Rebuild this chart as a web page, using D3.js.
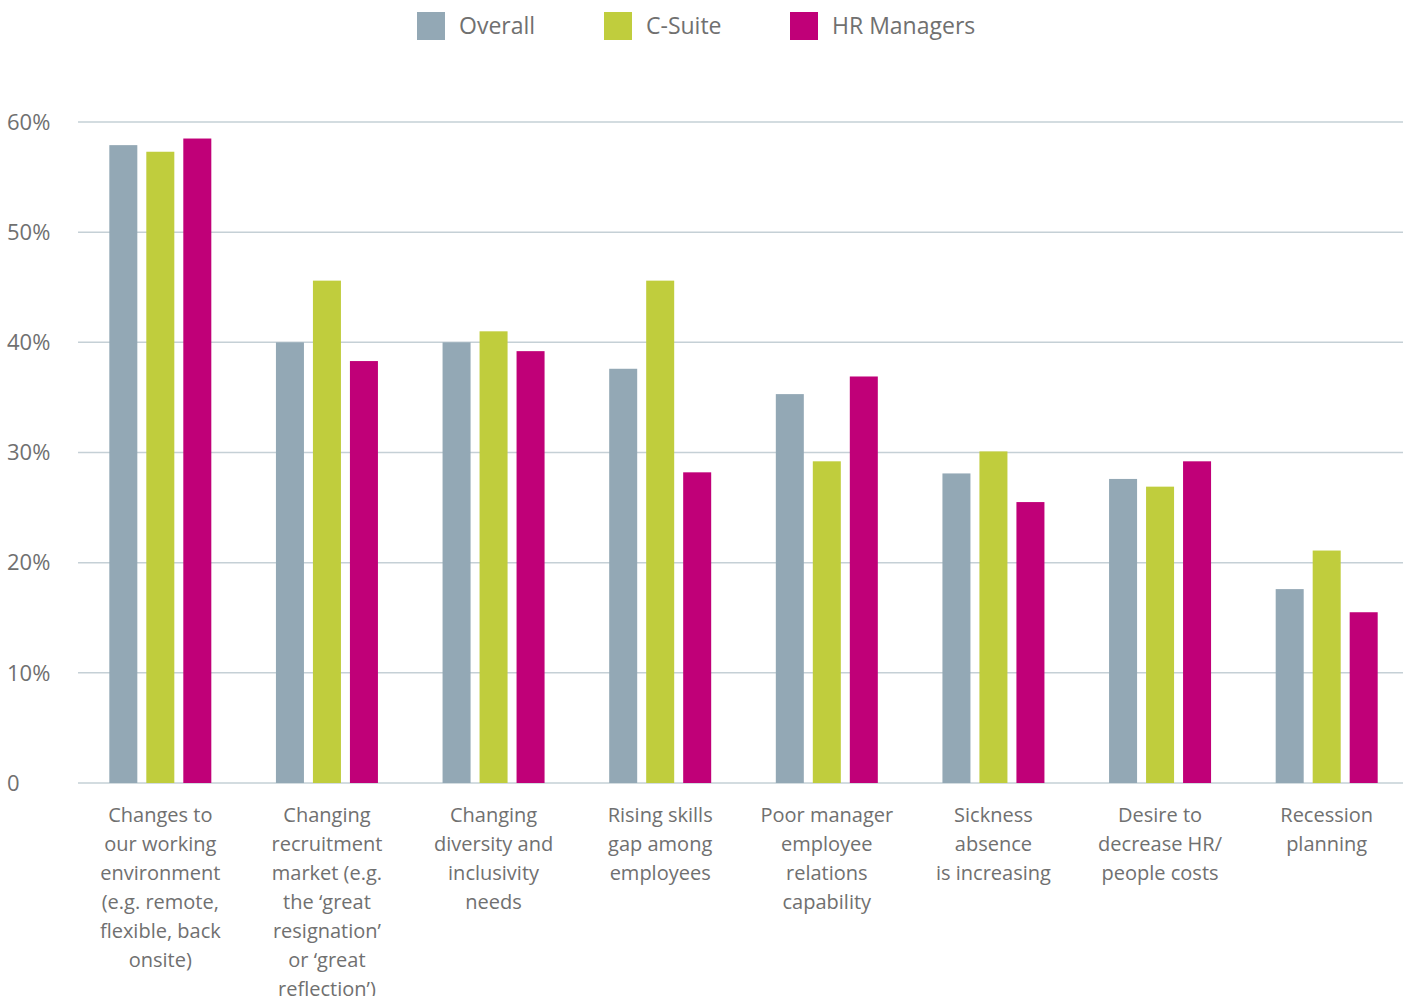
<!DOCTYPE html>
<html>
<head>
<meta charset="utf-8">
<script src="https://cdn.jsdelivr.net/npm/d3@7"></script>
<style>
  body { margin: 0; background: #fff; }
  text { font-family: "Open Sans", sans-serif; fill: #707070; }
</style>
</head>
<body>
<div id="chart"></div>
<script>
var categories = [
  ["Changes to", "our working", "environment", "(e.g. remote,", "flexible, back", "onsite)"],
  ["Changing", "recruitment", "market (e.g.", "the \u2018great", "resignation\u2019", "or \u2018great", "reflection\u2019)"],
  ["Changing", "diversity and", "inclusivity", "needs"],
  ["Rising skills", "gap among", "employees"],
  ["Poor manager", "employee", "relations", "capability"],
  ["Sickness", "absence", "is increasing"],
  ["Desire to", "decrease HR/", "people costs"],
  ["Recession", "planning"]
];
var series = ["Overall", "C-Suite", "HR Managers"];
var overall = [57.9, 40.0, 40.0, 37.6, 35.3, 28.1, 27.6, 17.6];
var csuite  = [57.3, 45.6, 41.0, 45.6, 29.2, 30.1, 26.9, 21.1];
var hrmgrs  = [58.5, 38.3, 39.2, 28.2, 36.9, 25.5, 29.2, 15.5];
var yTicks = [0, 10, 20, 30, 40, 50, 60];
var colors = ["#93a8b5", "#c0cd3d", "#c00078"];

var width = 1409, height = 996;
var svg = d3.select("#chart").append("svg")
    .attr("width", width)
    .attr("height", height);

var x = d3.scaleBand()
    .domain(d3.range(categories.length))
    .range([77, 1410]);

var y = d3.scaleLinear()
    .domain([0, 60])
    .range([783, 122]);

var xSub = d3.scaleBand()
    .domain(series)
    .range([-51, 51])
    .paddingInner(0.243);

// gridlines
svg.append("g").selectAll("line")
    .data(yTicks)
  .enter().append("line")
    .attr("x1", 78)
    .attr("x2", 1403)
    .attr("y1", function(d){ return y(d); })
    .attr("y2", function(d){ return y(d); })
    .attr("stroke", "#c5d0d6")
    .attr("stroke-width", 1.5);

// y labels
svg.append("g").selectAll("text")
    .data(yTicks)
  .enter().append("text")
    .attr("x", 7)
    .attr("y", function(d){ return y(d); })
    .attr("dy", "0.35em")
    .style("font-size", "22px")
    .text(function(d){ return d === 0 ? "0" : d + "%"; });

// bars
var table = categories.map(function(c, i){
  return [overall[i], csuite[i], hrmgrs[i]];
});

var groups = svg.append("g").selectAll("g")
    .data(table)
  .enter().append("g")
    .attr("transform", function(d, i){ return "translate(" + (x(i) + x.bandwidth() / 2) + ",0)"; });

groups.selectAll("rect")
    .data(function(d){ return d; })
  .enter().append("rect")
    .attr("x", function(d, j){ return xSub(series[j]); })
    .attr("width", xSub.bandwidth())
    .attr("y", function(d){ return y(d); })
    .attr("height", function(d){ return y(0) - y(d); })
    .attr("fill", function(d, j){ return colors[j]; });

// category labels
var labels = svg.append("g").selectAll("text")
    .data(categories)
  .enter().append("text")
    .attr("text-anchor", "middle")
    .attr("x", function(d, i){ return x(i) + x.bandwidth() / 2; })
    .attr("y", 822)
    .style("font-size", "20px");

labels.selectAll("tspan")
    .data(function(d){ return d; })
  .enter().append("tspan")
    .attr("x", function(){ return d3.select(this.parentNode).attr("x"); })
    .attr("dy", function(d, i){ return i === 0 ? 0 : 29; })
    .text(function(d){ return d; });

// legend
var legendX = [417, 604, 790];
var legend = svg.append("g").selectAll("g")
    .data(series)
  .enter().append("g")
    .attr("transform", function(d, i){ return "translate(" + legendX[i] + ",12)"; });

legend.append("rect")
    .attr("width", 28)
    .attr("height", 28)
    .attr("fill", function(d, i){ return colors[i]; });

legend.append("text")
    .attr("x", 42)
    .attr("y", 14)
    .attr("dy", "0.36em")
    .style("font-size", "23px")
    .text(function(d){ return d; });
</script>
</body>
</html>
